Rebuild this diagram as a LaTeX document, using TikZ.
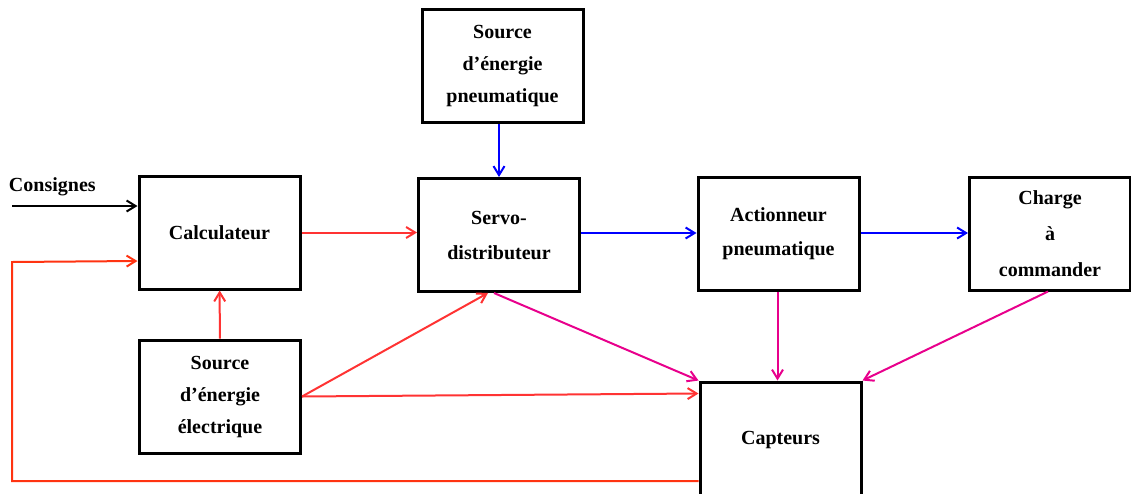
\documentclass[tikz,border=0pt]{standalone}
\usepackage{fontspec}
\setmainfont{Liberation Serif}
\usetikzlibrary{arrows.meta,positioning}
\definecolor{elec}{RGB}{255,51,51}
\definecolor{pneu}{RGB}{0,0,255}
\definecolor{mesure}{RGB}{232,0,140}
\definecolor{retour}{RGB}{255,51,17}

\begin{document}
\begin{tikzpicture}[
            x = 1pt, y = -1pt, % pixel like units
            > = {Straight Barb[length=9pt,width=11pt]}, % arrow head style
            line width = 2pt
            ]

        \tikzstyle{bloc}=[
            draw,
            line width = 3pt,
            minimum width = 161pt,
            minimum height = 113pt,
            inner sep = 0pt,
            align = center,
            font = \fontsize{20}{32}\selectfont\bfseries
        ]

        \useasboundingbox (0,0) rectangle (1131,493);

	% top row
        \node[bloc] (SP) at (502.5,66) {Source\\d’énergie\\pneumatique};
        \node[bloc] (CALC) at (219.5,232.5) {Calculateur};
        \node[bloc, font=\fontsize{20}{35}\selectfont\bfseries] (SERVO) at (499,235) {Servo-\\distributeur};
        \node[bloc, font=\fontsize{20}{34}\selectfont\bfseries] (ACT) at (778.5,233.5) {Actionneur\\pneumatique};
        \node[bloc, font=\fontsize{20}{36}\selectfont\bfseries] (CH) at (1050,233.5) {Charge\\à\\commander};

	% bottom row
        \node[bloc] (SE) at (220,396.5) {Source\\d’énergie\\électrique};
        \node[bloc, minimum height=116pt] (CAPT) at (780.5,440) {Capteurs};

	% input
        \coordinate (IN) at (12,206);
        \node[anchor=west, inner sep=0pt, font=\fontsize{20}{24}\selectfont\bfseries] (CONS) at (8,187) {Consignes};
        \draw[->] (IN) -- (CALC.west |- IN);

	% energy flows
        \draw[->, elec] (CALC) -- (SERVO.west |- CALC);
        \draw[->, pneu] (SP.south -| SERVO.north) -- (SERVO.north);
        \draw[->, pneu] (SERVO.east |- 0,233) -- (ACT.west |- 0,233);
        \draw[->, pneu] (ACT.east |- 0,233) -- (CH.west |- 0,233);
        \draw[->, elec] (SE) -- (CALC);
        \draw[->, elec] (SE.east) -- ([xshift=-11pt]SERVO.south);
        \draw[->, elec] (SE.east) -- ([yshift=-13pt]CAPT.north west);

	% measures
        \draw[->, mesure] ([xshift=-5pt]SERVO.south) -- (CAPT.north west);
        \draw[->, mesure] ([xshift=-3pt]ACT.south -| CAPT.north) -- ([xshift=-3pt]CAPT.north);
        \draw[->, mesure] ([xshift=-2pt]CH.south) -- (CAPT.north east);

	% feedback
        \coordinate (R1) at (12,481);
        \coordinate (R2) at (12,262);
        \draw[->, retour] (CAPT.west |- R1) -- (R1) -- (R2) -- (CALC.west |- 0,261);

  \end{tikzpicture}
\end{document}
